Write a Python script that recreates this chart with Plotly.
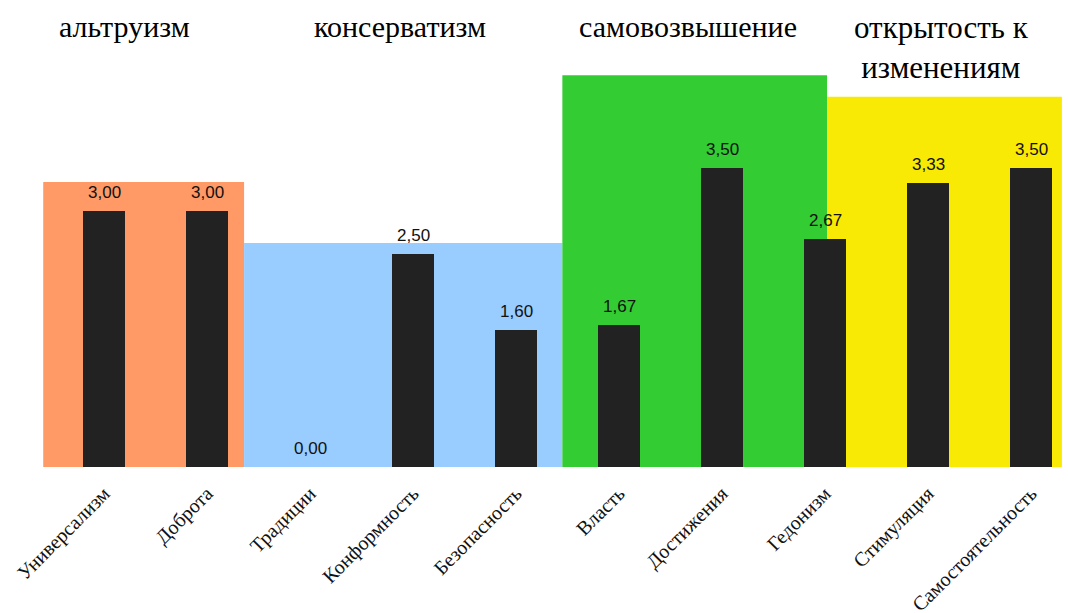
import plotly.graph_objects as go

# Values per category (Schwartz value types)
categories = ["Универсализм", "Доброта", "Традиции", "Конформность", "Безопасность",
              "Власть", "Достижения", "Гедонизм", "Стимуляция", "Самостоятельность"]
values = [3.00, 3.00, 0.00, 2.50, 1.60, 1.67, 3.50, 2.67, 3.33, 3.50]
value_labels = ["3,00", "3,00", "0,00", "2,50", "1,60", "1,67", "3,50", "2,67", "3,33", "3,50"]

# Higher-order groups: title, span over category positions, background height, colour
group_titles = ["альтруизм", "консерватизм", "самовозвышение", "открытость к<br>изменениям"]
group_start = [-0.59, 1.36, 4.45, 7.02]
group_end = [1.36, 4.45, 7.02, 9.30]
group_height = [3.34, 2.625, 4.59, 4.34]
group_colors = ["#FF9966", "#99CCFF", "#33CC33", "#F8EA04"]
group_title_x = [0.20, 2.87, 5.67, 8.13]

x = list(range(len(categories)))

fig = go.Figure()
fig.add_trace(go.Bar(
    x=x, y=values, width=0.4,
    marker=dict(color="#222222", line=dict(width=0)),
    hoverinfo="skip",
))

shapes = []
for x0, x1, h, c in zip(group_start, group_end, group_height, group_colors):
    shapes.append(dict(type="rect", xref="x", yref="y", x0=x0, x1=x1, y0=0, y1=h,
                       fillcolor=c, line=dict(width=0), layer="below"))
shapes.append(dict(type="line", xref="x", yref="y", x0=-0.52, x1=9.30, y0=-0.012, y1=-0.012,
                   line=dict(color="#D9D9D9", width=1.5)))

annotations = []
for xi, v, t in zip(x, values, value_labels):
    annotations.append(dict(x=xi, y=v, xref="x", yref="y", text=t, showarrow=False,
                            yanchor="bottom", yshift=7,
                            font=dict(family="Liberation Sans", size=17, color="#111111")))
for tx, title in zip(group_title_x, group_titles):
    two_line = "<br>" in title
    annotations.append(dict(x=tx, y=1 - (8 if two_line else 27) / 467, xref="x", yref="paper",
                            text=title, showarrow=False,
                            yanchor="top" if two_line else "middle",
                            font=dict(family="Liberation Serif", size=31 if two_line else 30,
                                      color="#000000")))

fig.update_layout(
    width=1068, height=613,
    margin=dict(l=0, r=0, t=0, b=146),
    paper_bgcolor="white", plot_bgcolor="white",
    showlegend=False,
    bargap=0,
    shapes=shapes,
    annotations=annotations,
    xaxis=dict(range=[-104 / 103, 964 / 103], tickmode="array", tickvals=x, ticktext=categories,
               tickangle=-45, showgrid=False, zeroline=False, showline=False, ticks="",
               ticklabelstandoff=10, automargin=False,
               tickfont=dict(family="Liberation Serif", size=20, color="#111111")),
    yaxis=dict(range=[0, 467 / 85.33], visible=False, showgrid=False, zeroline=False,
               automargin=False),
)

fig.write_html("out.html")
